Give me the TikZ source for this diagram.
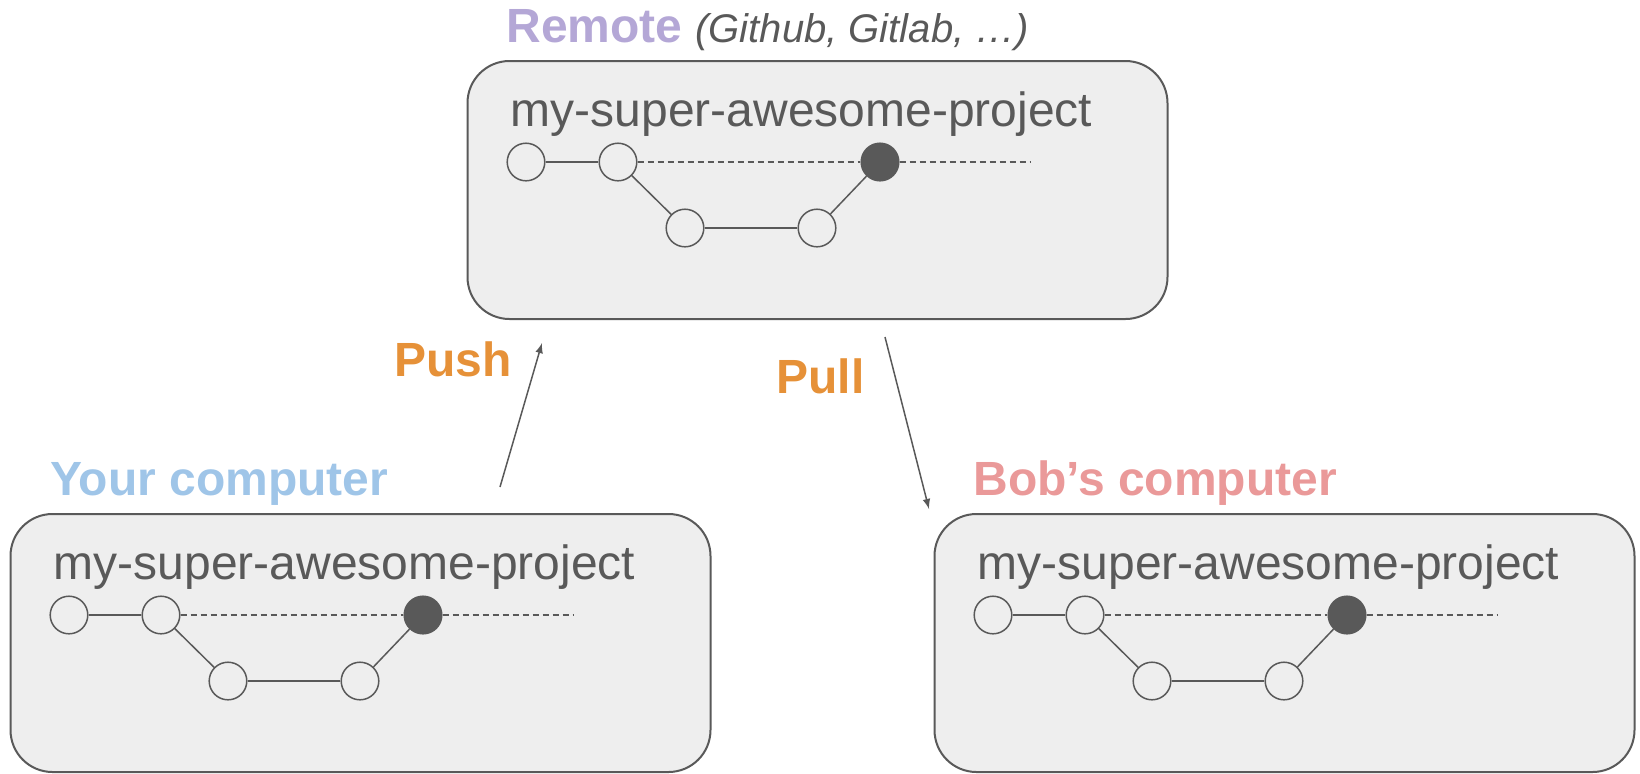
\documentclass[tikz,border=0pt]{standalone}
\usepackage{fontspec}
\setmainfont{Liberation Sans}

\definecolor{textgray}{HTML}{595959}
\definecolor{boxfill}{HTML}{EEEEEE}
\definecolor{remotecol}{HTML}{B4A7D6}
\definecolor{yourcol}{HTML}{9FC5E8}
\definecolor{bobcol}{HTML}{EA9999}
\definecolor{actioncol}{HTML}{E69138}

\tikzset{
  repobox/.style={draw=textgray,fill=boxfill,line width=1pt,rounded corners=21pt,
    minimum width=350pt,minimum height=129pt,inner sep=0pt},
  project/.style={anchor=base west,inner sep=0pt,text=textgray,
    font=\fontsize{24}{28}\selectfont},
  label/.style={anchor=base west,inner sep=0pt,font=\fontsize{24}{28}\selectfont\bfseries},
  commit/.style={circle,draw=textgray,fill=boxfill,line width=0.75pt,
    minimum size=18.8pt,inner sep=0pt},
  head/.style={commit,fill=textgray},
  branch/.style={draw=textgray,line width=0.75pt},
  future/.style={branch,dash pattern=on 3pt off 2pt},
}

\begin{document}
\begin{tikzpicture}[x=0.5pt,y=-0.5pt,>=latex,line join=bevel]
  \useasboundingbox (0,0) rectangle (1640,773);
  % Labels
  \node[label,text=remotecol] (remote) at (506,42) {Remote};
  \node[anchor=base west,inner sep=0pt,text=textgray,font=\fontsize{20}{24}\selectfont\itshape]
    (hosts) at (695,42) {(Github, Gitlab, …)};
  \node[label,text=yourcol] (yours) at (50,495) {Your computer};
  \node[label,text=bobcol] (bobs) at (973,495) {Bob’s computer};
  \node[label,text=actioncol] (push) at (394,376) {Push};
  \node[label,text=actioncol] (pull) at (776,393) {Pull};
  % Repo: remote
\begin{scope}[shift={(467.5,61)}]
  \node[repobox] (rbox) at (350,129) {};
  \node[project] (rname) at (43,65) {my-super-awesome-project};
  \node[commit] (rc1) at (58.5,101) {};
  \node[commit] (rc2) at (150.5,101) {};
  \node[commit] (rc3) at (217.5,167) {};
  \node[commit] (rc4) at (349.5,167) {};
  \node[head] (rc5) at (412.5,101) {};
  \coordinate (rend) at (562.5,101);
  \draw[branch] (rc1) -- (rc2);
  \draw[branch] (rc2) -- (rc3);
  \draw[branch] (rc3) -- (rc4);
  \draw[branch] (rc4) -- (rc5);
  \draw[future] (rc2) -- (rc5);
  \draw[future] (rc5) -- (rend);
\end{scope}
  % Repo: your computer
\begin{scope}[shift={(10.5,514)}]
  \node[repobox] (ybox) at (350,129) {};
  \node[project] (yname) at (43,65) {my-super-awesome-project};
  \node[commit] (yc1) at (58.5,101) {};
  \node[commit] (yc2) at (150.5,101) {};
  \node[commit] (yc3) at (217.5,167) {};
  \node[commit] (yc4) at (349.5,167) {};
  \node[head] (yc5) at (412.5,101) {};
  \coordinate (yend) at (562.5,101);
  \draw[branch] (yc1) -- (yc2);
  \draw[branch] (yc2) -- (yc3);
  \draw[branch] (yc3) -- (yc4);
  \draw[branch] (yc4) -- (yc5);
  \draw[future] (yc2) -- (yc5);
  \draw[future] (yc5) -- (yend);
\end{scope}
  % Repo: Bob's computer
\begin{scope}[shift={(934.5,514)}]
  \node[repobox] (bbox) at (350,129) {};
  \node[project] (bname) at (43,65) {my-super-awesome-project};
  \node[commit] (bc1) at (58.5,101) {};
  \node[commit] (bc2) at (150.5,101) {};
  \node[commit] (bc3) at (217.5,167) {};
  \node[commit] (bc4) at (349.5,167) {};
  \node[head] (bc5) at (412.5,101) {};
  \coordinate (bend) at (562.5,101);
  \draw[branch] (bc1) -- (bc2);
  \draw[branch] (bc2) -- (bc3);
  \draw[branch] (bc3) -- (bc4);
  \draw[branch] (bc4) -- (bc5);
  \draw[future] (bc2) -- (bc5);
  \draw[future] (bc5) -- (bend);
\end{scope}
  % Edge: yours -> remote
  \coordinate (pushfrom) at (500,487);
  \coordinate (pushto) at (542,343);
  \draw[->,draw=textgray,line width=0.75pt] (pushfrom) -- (pushto);
  % Edge: remote -> bobs
  \coordinate (pullfrom) at (885,337);
  \coordinate (pullto) at (929,509);
  \draw[->,draw=textgray,line width=0.75pt] (pullfrom) -- (pullto);
%
\end{tikzpicture}
\end{document}
